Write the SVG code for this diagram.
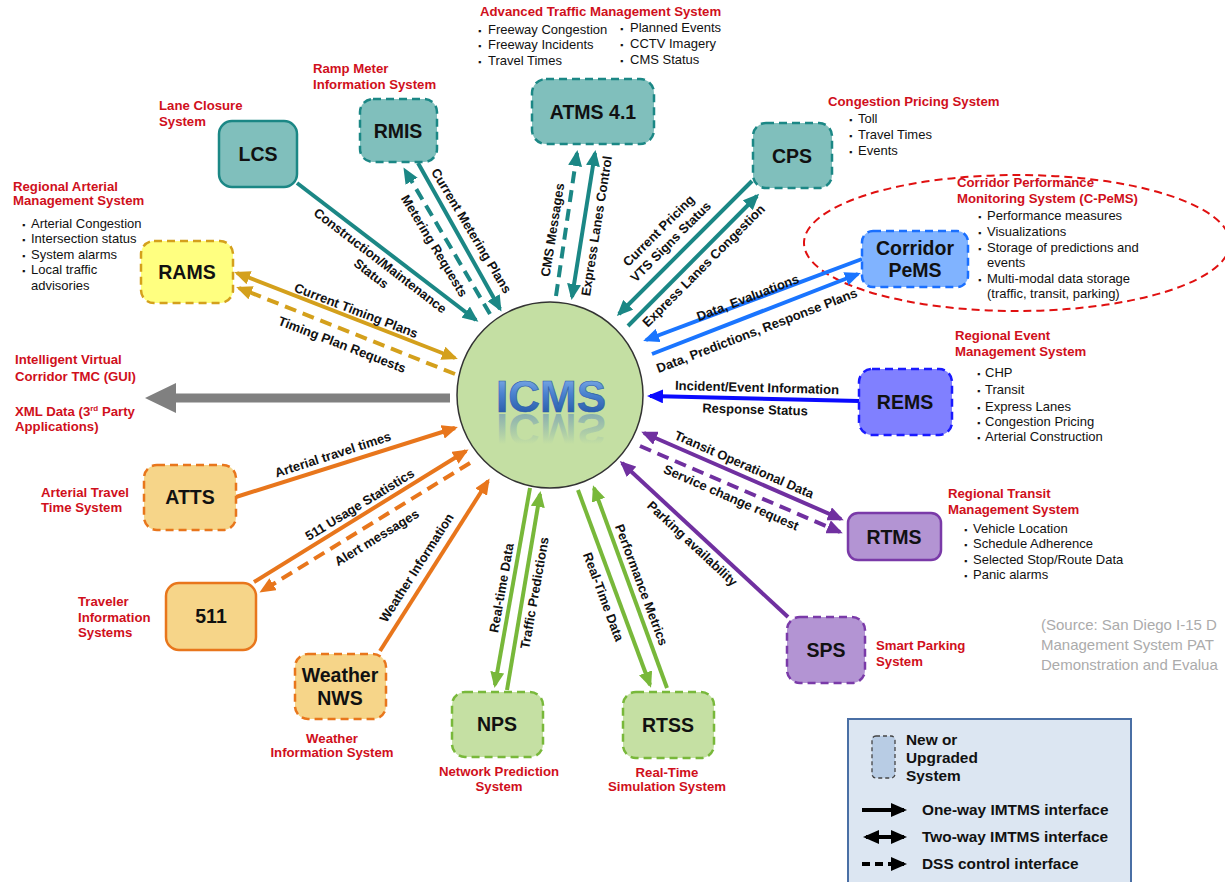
<svg xmlns="http://www.w3.org/2000/svg" width="1225" height="882" viewBox="0 0 1225 882">
<style>
text{font-family:"Liberation Sans",Arial,sans-serif}
.lbl{font-size:13px;font-weight:bold;fill:#111;text-anchor:middle}
.red{font-size:13.2px;font-weight:bold;fill:#d0101c}
.bul{font-size:13px;fill:#111}
.bb{font-size:9px}
.nl{font-size:19.5px;font-weight:bold;fill:#111;text-anchor:middle}
.c{fill:none;stroke-width:4}
.d{stroke-dasharray:12 7}
.teal{stroke:#1b8785}.gold{stroke:#d4a01c}.bluea{stroke:#1a75ff}.blueb{stroke:#0a0aff}
.purp{stroke:#7030a0}.grn{stroke:#78b83a}.org{stroke:#e8761c}.blk{stroke:#000}
.nd{stroke-width:2.5;stroke-dasharray:8 5}
.ns{stroke-width:2.5}
.ft{fill:#80bfbc;stroke:#1b8785}
.fy{fill:#ffff80;stroke:#d4a01c}
.fb{fill:#80b3ff;stroke:#1a6fff}
.fv{fill:#8080ff;stroke:#1a1aff}
.fp{fill:#b394d3;stroke:#7a3aa8}
.fg{fill:#c5e0a3;stroke:#78b83a}
.fo{fill:#f6d589;stroke:#e8761c}
.lg{font-size:15.4px;font-weight:bold;fill:#111}
</style>
<defs>
<marker id="mTeal" viewBox="0 0 16 14" refX="13" refY="7" markerWidth="16" markerHeight="14" markerUnits="userSpaceOnUse" orient="auto-start-reverse"><path d="M0,0L16,7L0,14z" fill="#1b8785"/></marker>
<marker id="mGold" viewBox="0 0 16 14" refX="13" refY="7" markerWidth="16" markerHeight="14" markerUnits="userSpaceOnUse" orient="auto-start-reverse"><path d="M0,0L16,7L0,14z" fill="#d4a01c"/></marker>
<marker id="mBlueA" viewBox="0 0 16 14" refX="13" refY="7" markerWidth="16" markerHeight="14" markerUnits="userSpaceOnUse" orient="auto-start-reverse"><path d="M0,0L16,7L0,14z" fill="#1a75ff"/></marker>
<marker id="mBlueB" viewBox="0 0 16 14" refX="13" refY="7" markerWidth="16" markerHeight="14" markerUnits="userSpaceOnUse" orient="auto-start-reverse"><path d="M0,0L16,7L0,14z" fill="#0a0aff"/></marker>
<marker id="mPurp" viewBox="0 0 16 14" refX="13" refY="7" markerWidth="16" markerHeight="14" markerUnits="userSpaceOnUse" orient="auto-start-reverse"><path d="M0,0L16,7L0,14z" fill="#7030a0"/></marker>
<marker id="mGrn" viewBox="0 0 16 14" refX="13" refY="7" markerWidth="16" markerHeight="14" markerUnits="userSpaceOnUse" orient="auto-start-reverse"><path d="M0,0L16,7L0,14z" fill="#78b83a"/></marker>
<marker id="mOrg" viewBox="0 0 16 14" refX="13" refY="7" markerWidth="16" markerHeight="14" markerUnits="userSpaceOnUse" orient="auto-start-reverse"><path d="M0,0L16,7L0,14z" fill="#e8761c"/></marker>
<marker id="mBlk" viewBox="0 0 16 14" refX="13" refY="7" markerWidth="16" markerHeight="14" markerUnits="userSpaceOnUse" orient="auto-start-reverse"><path d="M0,0L16,7L0,14z" fill="#000"/></marker>
<linearGradient id="icmsG" x1="0" y1="0" x2="0" y2="1"><stop offset="0" stop-color="#8db7ee"/><stop offset="0.45" stop-color="#4a82cf"/><stop offset="1" stop-color="#1d4f9c"/></linearGradient>
<linearGradient id="icmsR" x1="0" y1="1" x2="0" y2="0.2"><stop offset="0" stop-color="#3a6fc0" stop-opacity="0.55"/><stop offset="1" stop-color="#3a6fc0" stop-opacity="0"/></linearGradient>
</defs>

<rect width="1225" height="882" fill="#fff"/>

<!-- C-PeMS highlight ellipse -->
<ellipse cx="1017" cy="243" rx="213" ry="68" fill="none" stroke="#e01010" stroke-width="2" stroke-dasharray="8 5"/>

<g id="connectors">
<line class="c teal" x1="297" y1="183" x2="476" y2="320" marker-end="url(#mTeal)"/>
<line class="c teal" x1="418" y1="163" x2="500" y2="309" marker-end="url(#mTeal)"/>
<line class="c teal d" x1="490" y1="314" x2="405" y2="170" marker-end="url(#mTeal)"/>
<line class="c teal d" x1="556" y1="296" x2="577" y2="153" marker-end="url(#mTeal)"/>
<line class="c teal" x1="572" y1="297" x2="595" y2="153" marker-start="url(#mTeal)" marker-end="url(#mTeal)"/>
<line class="c teal" x1="752" y1="181" x2="619" y2="314" marker-end="url(#mTeal)"/>
<line class="c teal" x1="628" y1="326" x2="757" y2="196" marker-end="url(#mTeal)"/>
<line class="c bluea" x1="862" y1="259" x2="646" y2="340" marker-end="url(#mBlueA)"/>
<line class="c bluea" x1="652" y1="354" x2="858" y2="274" marker-end="url(#mBlueA)"/>
<line class="c blueb" x1="859" y1="401" x2="650" y2="396" marker-end="url(#mBlueB)"/>
<line class="c purp" x1="644" y1="433" x2="841" y2="519" marker-start="url(#mPurp)" marker-end="url(#mPurp)"/>
<line class="c purp d" x1="640" y1="446" x2="840" y2="532" marker-end="url(#mPurp)"/>
<line class="c purp" x1="788" y1="617" x2="622" y2="463" marker-end="url(#mPurp)"/>
<line class="c grn" x1="578" y1="490" x2="650" y2="685" marker-end="url(#mGrn)"/>
<line class="c grn" x1="667" y1="688" x2="594" y2="488" marker-end="url(#mGrn)"/>
<line class="c grn" x1="530" y1="488" x2="495" y2="685" marker-end="url(#mGrn)"/>
<line class="c grn" x1="507" y1="690" x2="540" y2="494" marker-end="url(#mGrn)"/>
<line class="c org" x1="380" y1="651" x2="488" y2="481" marker-end="url(#mOrg)"/>
<line class="c org" x1="254" y1="582" x2="466" y2="451" marker-end="url(#mOrg)"/>
<line class="c org d" x1="470" y1="463" x2="262" y2="591" marker-end="url(#mOrg)"/>
<line class="c org" x1="236" y1="497" x2="455" y2="428" marker-end="url(#mOrg)"/>
<line class="c gold" x1="237" y1="273" x2="455" y2="358" marker-start="url(#mGold)" marker-end="url(#mGold)"/>
<line class="c gold d" x1="455" y1="374" x2="239" y2="288" marker-end="url(#mGold)"/>
<line x1="450" y1="398" x2="174" y2="398" stroke="#808080" stroke-width="9"/>
<polygon points="145,398 176,383 176,413" fill="#808080"/>

<text class="lbl" transform="translate(380,261) rotate(37.5)" y="4">Construction/Maintenance</text>
<text class="lbl" transform="translate(371,274) rotate(37.5)" y="4">Status</text>
<text class="lbl" transform="translate(471,231) rotate(59)" y="4">Current Metering Plans</text>
<text class="lbl" transform="translate(434,246) rotate(59)" y="4">Metering Requests</text>
<text class="lbl" transform="translate(553,230) rotate(-81)" y="4">CMS Messages</text>
<text class="lbl" transform="translate(597,226) rotate(-81)" y="4">Express Lanes Control</text>
<text class="lbl" transform="translate(659,231) rotate(-45)" y="4">Current Pricing</text>
<text class="lbl" transform="translate(671,242) rotate(-45)" y="4">VTS Signs Status</text>
<text class="lbl" transform="translate(704,266) rotate(-45)" y="4">Express Lanes Congestion</text>
<text class="lbl" transform="translate(748,298) rotate(-21)" y="4">Data, Evaluations</text>
<text class="lbl" transform="translate(757,331) rotate(-21)" y="4">Data, Predictions, Response Plans</text>
<text class="lbl" transform="translate(757,388) rotate(1.5)" y="4">Incident/Event Information</text>
<text class="lbl" transform="translate(755,410) rotate(1.5)" y="4">Response Status</text>
<text class="lbl" transform="translate(744,465) rotate(23.5)" y="4">Transit Operational Data</text>
<text class="lbl" transform="translate(731,498) rotate(23.5)" y="4">Service change request</text>
<text class="lbl" transform="translate(692,544) rotate(43)" y="4">Parking availability</text>
<text class="lbl" transform="translate(641,585) rotate(69.5)" y="4">Performance Metrics</text>
<text class="lbl" transform="translate(603,597) rotate(69.5)" y="4">Real-Time Data</text>
<text class="lbl" transform="translate(502,588) rotate(-80)" y="4">Real-time Data</text>
<text class="lbl" transform="translate(535,593) rotate(-80)" y="4">Traffic Predictions</text>
<text class="lbl" transform="translate(417,568) rotate(-57.5)" y="4">Weather Information</text>
<text class="lbl" transform="translate(360,505) rotate(-31.5)" y="4">511 Usage Statistics</text>
<text class="lbl" transform="translate(377,538) rotate(-31.5)" y="4">Alert messages</text>
<text class="lbl" transform="translate(333,455) rotate(-18)" y="4">Arterial travel times</text>
<text class="lbl" transform="translate(356,311) rotate(21)" y="4">Current Timing Plans</text>
<text class="lbl" transform="translate(342,345) rotate(21)" y="4">Timing Plan Requests</text>
</g>

<g id="ICMS">
<circle cx="550" cy="395" r="93" fill="#c4dfa3" stroke="#333" stroke-width="1.5"/>
<text x="551" y="412" font-size="44" font-weight="bold" text-anchor="middle" fill="url(#icmsG)" stroke="#2a5aa8" stroke-width="0.6">ICMS</text>
<text x="551" y="412" font-size="44" font-weight="bold" text-anchor="middle" fill="url(#icmsR)" transform="matrix(1 0 0 -1 0 826)">ICMS</text>
</g>

<g id="LCS">
<rect class="ft ns" x="219" y="121" width="78" height="66" rx="13"/>
<text class="nl" x="258" y="161">LCS</text>
<text class="red" x="159" y="110">Lane Closure</text>
<text class="red" x="159" y="126">System</text>
</g>

<g id="RMIS">
<rect class="ft nd" x="360" y="99" width="77" height="63" rx="13"/>
<text class="nl" x="398" y="138">RMIS</text>
<text class="red" x="313" y="73">Ramp Meter</text>
<text class="red" x="313" y="89">Information System</text>
</g>

<g id="ATMS">
<rect class="ft nd" x="532" y="79" width="122" height="65" rx="14"/>
<text class="nl" x="593" y="119">ATMS 4.1</text>
<text class="red" x="480" y="16">Advanced Traffic Management System</text>
<text class="bul" x="478" y="34"><tspan class="bb">▪</tspan><tspan x="488">Freeway Congestion</tspan></text>
<text class="bul" x="478" y="49"><tspan class="bb">▪</tspan><tspan x="488">Freeway Incidents</tspan></text>
<text class="bul" x="478" y="65"><tspan class="bb">▪</tspan><tspan x="488">Travel Times</tspan></text>
<text class="bul" x="620" y="32"><tspan class="bb">▪</tspan><tspan x="630">Planned Events</tspan></text>
<text class="bul" x="620" y="48"><tspan class="bb">▪</tspan><tspan x="630">CCTV Imagery</tspan></text>
<text class="bul" x="620" y="64"><tspan class="bb">▪</tspan><tspan x="630">CMS Status</tspan></text>
</g>

<g id="CPS">
<rect class="ft nd" x="753" y="123" width="79" height="65" rx="13"/>
<text class="nl" x="792" y="163">CPS</text>
<text class="red" x="828" y="106">Congestion Pricing System</text>
<text class="bul" x="849" y="123"><tspan class="bb">▪</tspan><tspan x="858">Toll</tspan></text>
<text class="bul" x="849" y="139"><tspan class="bb">▪</tspan><tspan x="858">Travel Times</tspan></text>
<text class="bul" x="849" y="155"><tspan class="bb">▪</tspan><tspan x="858">Events</tspan></text>
</g>

<g id="CorridorPeMS">
<rect class="fb nd" x="862" y="231" width="106" height="56" rx="11"/>
<text class="nl" x="915" y="255">Corridor</text>
<text class="nl" x="915" y="277">PeMS</text>
<text class="red" x="957" y="187">Corridor Performance</text>
<text class="red" x="957" y="203">Monitoring System (C-PeMS)</text>
<text class="bul" x="978" y="220"><tspan class="bb">▪</tspan><tspan x="987">Performance measures</tspan></text>
<text class="bul" x="978" y="236"><tspan class="bb">▪</tspan><tspan x="987">Visualizations</tspan></text>
<text class="bul" x="978" y="252"><tspan class="bb">▪</tspan><tspan x="987">Storage of predictions and</tspan></text>
<text class="bul" x="987" y="267">events</text>
<text class="bul" x="978" y="283"><tspan class="bb">▪</tspan><tspan x="987">Multi-modal data storage</tspan></text>
<text class="bul" x="987" y="298">(traffic, transit, parking)</text>
</g>

<g id="RAMS">
<rect class="fy nd" x="141" y="241" width="92" height="62" rx="13"/>
<text class="nl" x="187" y="279">RAMS</text>
<text class="red" x="13" y="191">Regional Arterial</text>
<text class="red" x="13" y="205">Management System</text>
<text class="bul" x="22" y="228"><tspan class="bb">▪</tspan><tspan x="31">Arterial Congestion</tspan></text>
<text class="bul" x="22" y="243"><tspan class="bb">▪</tspan><tspan x="31">Intersection status</tspan></text>
<text class="bul" x="22" y="259"><tspan class="bb">▪</tspan><tspan x="31">System alarms</tspan></text>
<text class="bul" x="22" y="274"><tspan class="bb">▪</tspan><tspan x="31">Local traffic</tspan></text>
<text class="bul" x="31" y="290">advisories</text>
</g>

<g id="XML">
<text class="red" x="15" y="364">Intelligent Virtual</text>
<text class="red" x="15" y="381">Corridor TMC (GUI)</text>
<text class="red" x="15" y="416">XML Data (3<tspan font-size="8" dy="-5">rd</tspan><tspan dy="5"> Party</tspan></text>
<text class="red" x="15" y="431">Applications)</text>
</g>

<g id="REMS">
<rect class="fv nd" x="859" y="369" width="93" height="66" rx="13"/>
<text class="nl" x="905" y="409">REMS</text>
<text class="red" x="955" y="340">Regional Event</text>
<text class="red" x="955" y="356">Management System</text>
<text class="bul" x="977" y="377"><tspan class="bb">▪</tspan><tspan x="985">CHP</tspan></text>
<text class="bul" x="977" y="394"><tspan class="bb">▪</tspan><tspan x="985">Transit</tspan></text>
<text class="bul" x="977" y="411"><tspan class="bb">▪</tspan><tspan x="985">Express Lanes</tspan></text>
<text class="bul" x="977" y="426"><tspan class="bb">▪</tspan><tspan x="985">Congestion Pricing</tspan></text>
<text class="bul" x="977" y="441"><tspan class="bb">▪</tspan><tspan x="985">Arterial Construction</tspan></text>
</g>

<g id="RTMS">
<rect class="fp ns" x="848" y="513" width="93" height="47" rx="10"/>
<text class="nl" x="894" y="544">RTMS</text>
<text class="red" x="948" y="498">Regional Transit</text>
<text class="red" x="948" y="514">Management System</text>
<text class="bul" x="964" y="533"><tspan class="bb">▪</tspan><tspan x="973">Vehicle Location</tspan></text>
<text class="bul" x="964" y="548"><tspan class="bb">▪</tspan><tspan x="973">Schedule Adherence</tspan></text>
<text class="bul" x="964" y="564"><tspan class="bb">▪</tspan><tspan x="973">Selected Stop/Route Data</tspan></text>
<text class="bul" x="964" y="579"><tspan class="bb">▪</tspan><tspan x="973">Panic alarms</tspan></text>
</g>

<g id="SPS">
<rect class="fp nd" x="787" y="617" width="78" height="66" rx="13"/>
<text class="nl" x="826" y="657">SPS</text>
<text class="red" x="876" y="650">Smart Parking</text>
<text class="red" x="876" y="666">System</text>
</g>

<g id="RTSS">
<rect class="fg nd" x="623" y="692" width="91" height="66" rx="13"/>
<text class="nl" x="668" y="732">RTSS</text>
<text class="red" x="667" y="777" text-anchor="middle">Real-Time</text>
<text class="red" x="667" y="791" text-anchor="middle">Simulation System</text>
</g>

<g id="NPS">
<rect class="fg nd" x="452" y="692" width="91" height="65" rx="13"/>
<text class="nl" x="497" y="731">NPS</text>
<text class="red" x="499" y="776" text-anchor="middle">Network Prediction</text>
<text class="red" x="499" y="791" text-anchor="middle">System</text>
</g>

<g id="Weather">
<rect class="fo nd" x="295" y="654" width="91" height="65" rx="13"/>
<text class="nl" x="340" y="682">Weather</text>
<text class="nl" x="340" y="705">NWS</text>
<text class="red" x="332" y="743" text-anchor="middle">Weather</text>
<text class="red" x="332" y="757" text-anchor="middle">Information System</text>
</g>

<g id="N511">
<rect class="fo ns" x="166" y="583" width="90" height="67" rx="13"/>
<text class="nl" x="211" y="623">511</text>
<text class="red" x="78" y="606">Traveler</text>
<text class="red" x="78" y="622">Information</text>
<text class="red" x="78" y="637">Systems</text>
</g>

<g id="ATTS">
<rect class="fo nd" x="144" y="465" width="92" height="65" rx="13"/>
<text class="nl" x="190" y="504">ATTS</text>
<text class="red" x="41" y="497">Arterial Travel</text>
<text class="red" x="41" y="512">Time System</text>
</g>

<g id="source">
<text x="1041" y="630" font-size="15" fill="#ababab">(Source: San Diego I-15 D</text>
<text x="1041" y="650" font-size="15" fill="#ababab">Management System PAT</text>
<text x="1041" y="670" font-size="15" fill="#ababab">Demonstration and Evalua</text>
</g>

<g id="legend">
<rect x="848" y="719" width="283" height="175" fill="#dce6f2" stroke="#4a6fa5" stroke-width="2"/>
<rect x="872" y="736" width="23" height="42" rx="4" fill="#b8cce4" stroke="#444" stroke-width="1.3" stroke-dasharray="4 3"/>
<text class="lg" x="906" y="745">New or</text>
<text class="lg" x="906" y="763">Upgraded</text>
<text class="lg" x="906" y="781">System</text>
<line class="c blk" x1="862" y1="810" x2="904" y2="810" stroke-width="3.5" marker-end="url(#mBlk)"/>
<line class="c blk" x1="866" y1="837" x2="904" y2="837" stroke-width="3.5" marker-start="url(#mBlk)" marker-end="url(#mBlk)"/>
<line class="c blk" x1="862" y1="864" x2="904" y2="864" stroke-width="3.5" stroke-dasharray="8 5" marker-end="url(#mBlk)"/>
<text class="lg" x="922" y="815">One-way IMTMS interface</text>
<text class="lg" x="922" y="842">Two-way IMTMS interface</text>
<text class="lg" x="922" y="869">DSS control interface</text>
</g>
</svg>
